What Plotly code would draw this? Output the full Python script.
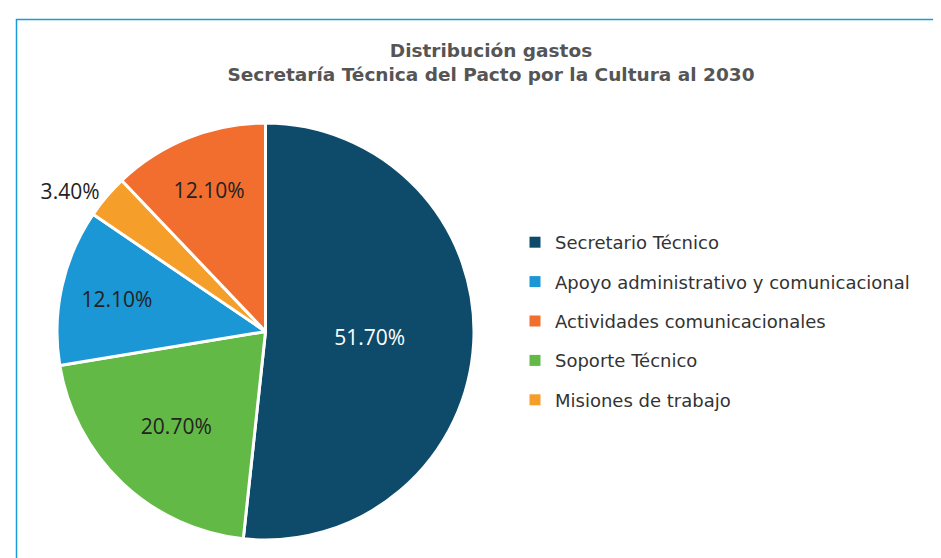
import plotly.graph_objects as go

# slices in clockwise order from 12 o'clock
slice_labels = ["Secretario Técnico", "Soporte Técnico", "Apoyo administrativo y comunicacional",
                "Misiones de trabajo", "Actividades comunicacionales"]
slice_values = [51.7, 20.7, 12.1, 3.4, 12.1]

# legend order as printed in the source
legend_labels = ["Secretario Técnico", "Apoyo administrativo y comunicacional",
                 "Actividades comunicacionales", "Soporte Técnico", "Misiones de trabajo"]

colors = {
    "Secretario Técnico": "#0E4B6B",
    "Apoyo administrativo y comunicacional": "#1A97D4",
    "Actividades comunicacionales": "#F26E2E",
    "Soporte Técnico": "#62B946",
    "Misiones de trabajo": "#F59E2A",
}
text_colors = {"Secretario Técnico": "white"}

W, H = 941, 558
font = "Open Sans"
wide_font = "DejaVu Sans"

fig = go.Figure()

fig.add_trace(go.Pie(
    labels=slice_labels, values=slice_values, sort=False,
    direction="clockwise", rotation=0,
    marker=dict(colors=[colors[l] for l in slice_labels], line=dict(color="white", width=3)),
    texttemplate="%{value:.2f}%",
    textposition=["inside", "inside", "inside", "outside", "inside"],
    insidetextorientation="horizontal",
    insidetextfont=dict(size=21, family=font, color=[text_colors.get(l, "#222222") for l in slice_labels]),
    outsidetextfont=dict(size=21, family=font, color="#222222"),
    showlegend=False, hoverinfo="label+percent",
    domain=dict(x=[49 / W, 466 / W], y=[26 / H, 443 / H]),
))

# legend entries (square swatches)
for i, name in enumerate(legend_labels):
    fig.add_trace(go.Scatter(
        x=[None], y=[None], mode="markers", name=name, legendgroup=str(i),
        marker=dict(symbol="square", size=11, color=colors[name]),
    ))

fig.update_layout(
    width=W, height=H,
    margin=dict(l=0, r=0, t=0, b=0),
    paper_bgcolor="white", plot_bgcolor="white",
    font=dict(family=font, color="#333333"),
    title=dict(
        text="<b>Distribución gastos<br>Secretaría Técnica del Pacto por la Cultura al 2030</b>",
        x=483 / W, xanchor="center", y=1 - 49 / H, yanchor="top",
        font=dict(size=18.5, color="#555555", family=wide_font),
    ),
    xaxis=dict(visible=False), yaxis=dict(visible=False),
    legend=dict(
        x=507 / W, xanchor="left", y=1 - 216 / H, yanchor="top",
        font=dict(size=18, color="#333333", family=wide_font),
        tracegroupgap=13, itemwidth=30, bgcolor="rgba(0,0,0,0)",
    ),
    shapes=[dict(
        type="rect", xref="paper", yref="paper",
        x0=8.5 / W, x1=1.05, y0=-0.05, y1=1 - 11.5 / H,
        line=dict(color="#1A9AD6", width=1.5), fillcolor="rgba(0,0,0,0)",
    )],
)

fig.write_html("out.html")
